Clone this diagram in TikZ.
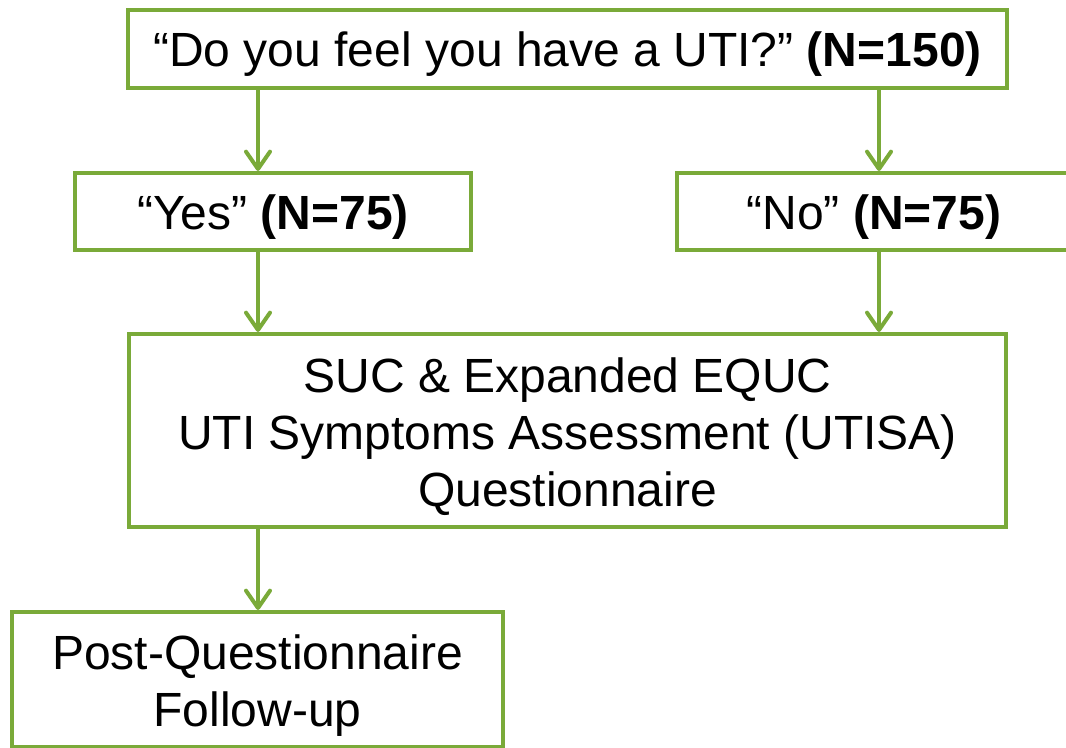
\documentclass[tikz,border=0pt]{standalone}
\usepackage{fontspec}
\setmainfont{Liberation Sans}
\usetikzlibrary{arrows.meta}
\definecolor{boxgreen}{RGB}{122,170,57}
\tikzset{
  flowbox/.style={draw=boxgreen, line width=3pt, rectangle, fill=white,
    inner sep=0pt, font=\fontsize{36}{43}\selectfont},
  oneline/.style={text height=35pt, text depth=8pt},
  flowarrow/.style={draw=boxgreen, line width=3pt,
    -{Straight Barb[length=13pt,width=18pt,line cap=round,line join=round]}}
}
\begin{document}
\begin{tikzpicture}[x=0.75pt,y=-0.75pt]
\useasboundingbox (0,0) rectangle (1066,748);
\clip (0,0) rectangle (1066,748);
\node[flowbox, oneline, minimum width=659.25pt, minimum height=58.5pt] (top) at (567.5,49)
  {“Do you feel you have a UTI?” \textbf{(N=150)}};
\node[flowbox, oneline, minimum width=297pt, minimum height=57.75pt] (yes) at (273,211.5)
  {“Yes” \textbf{(N=75)}};
\node[flowbox, oneline, minimum width=295.5pt, minimum height=57.75pt] (no) at (874,211.5)
  {“No” \textbf{(N=75)}};
\node[flowbox, text height=20pt, text depth=77.75pt, minimum width=657.75pt, minimum height=144.75pt] (suc) at (567.5,430.5)
  {\begin{tabular}[t]{@{}c@{}}SUC \& Expanded EQUC\\UTI Symptoms Assessment (UTISA)\\Questionnaire\end{tabular}};
\node[flowbox, text height=20pt, text depth=35.75pt, minimum width=368.25pt, minimum height=101.25pt] (post) at (257.5,679.5)
  {\begin{tabular}[t]{@{}c@{}}Post-Questionnaire\\Follow-up\end{tabular}};
\coordinate (xl) at (258,0);
\coordinate (xr) at (879,0);
\draw[flowarrow] (xl |- top.south) -- (xl |- yes.north);
\draw[flowarrow] (xr |- top.south) -- (xr |- no.north);
\draw[flowarrow] (xl |- yes.south) -- (xl |- suc.north);
\draw[flowarrow] (xr |- no.south) -- (xr |- suc.north);
\draw[flowarrow] (xl |- suc.south) -- (xl |- post.north);
\end{tikzpicture}
\end{document}
